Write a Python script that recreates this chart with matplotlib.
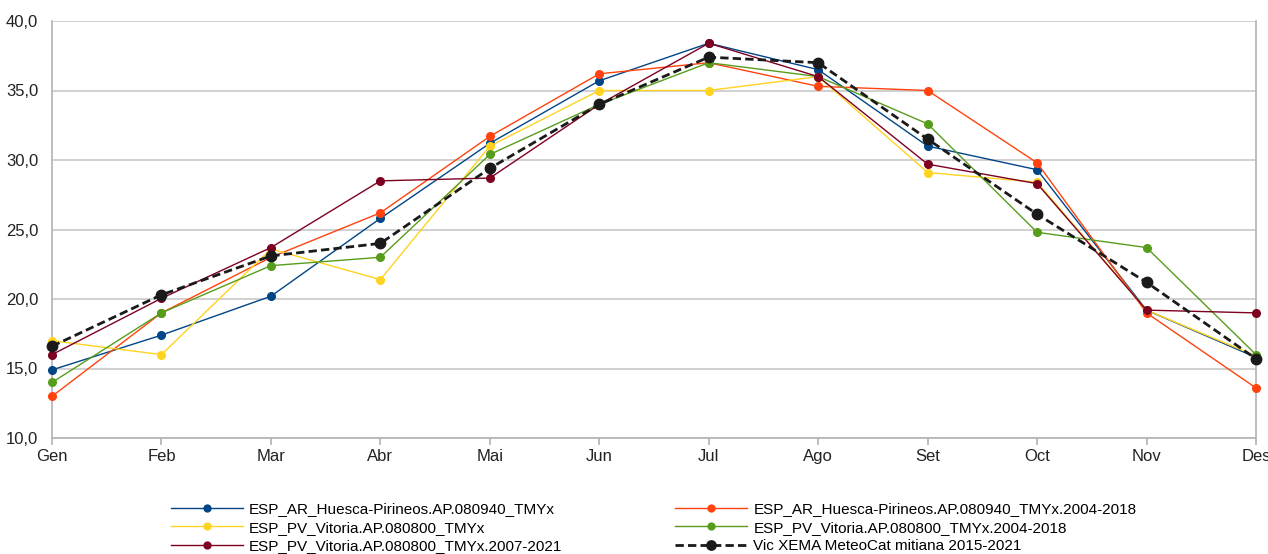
import matplotlib
matplotlib.use("Agg")
import matplotlib.pyplot as plt
from matplotlib.ticker import FuncFormatter

plt.rcParams['font.family'] = ['Liberation Sans', 'DejaVu Sans']

months = ["Gen", "Feb", "Mar", "Abr", "Mai", "Jun", "Jul", "Ago", "Set", "Oct", "Nov", "Des"]

huesca_tmyx = [14.9, 17.4, 20.2, 25.8, 31.2, 35.7, 38.4, 36.5, 31.0, 29.3, 19.2, 15.8]
huesca_0418 = [13.0, 19.0, 23.0, 26.2, 31.7, 36.2, 37.0, 35.3, 35.0, 29.8, 19.0, 13.6]
vitoria_tmyx = [17.0, 16.0, 23.6, 21.4, 31.0, 35.0, 35.0, 36.0, 29.1, 28.4, 19.2, 15.9]
vitoria_0418 = [14.0, 19.0, 22.4, 23.0, 30.4, 34.0, 37.0, 36.0, 32.6, 24.8, 23.7, 16.0]
vitoria_0721 = [16.0, 20.05, 23.7, 28.5, 28.7, 34.0, 38.4, 36.0, 29.7, 28.3, 19.2, 19.0]
vic_xema = [16.6, 20.3, 23.1, 24.0, 29.4, 34.0, 37.4, 37.0, 31.5, 26.1, 21.2, 15.7]

labels = [
    "ESP_AR_Huesca-Pirineos.AP.080940_TMYx",
    "ESP_AR_Huesca-Pirineos.AP.080940_TMYx.2004-2018",
    "ESP_PV_Vitoria.AP.080800_TMYx",
    "ESP_PV_Vitoria.AP.080800_TMYx.2004-2018",
    "ESP_PV_Vitoria.AP.080800_TMYx.2007-2021",
    "Vic XEMA MeteoCat mitiana 2015-2021",
]
colors = ["#004586", "#ff420e", "#ffd320", "#579d1c", "#7e0021", "#1a1a1a"]
series = [huesca_tmyx, huesca_0418, vitoria_tmyx, vitoria_0418, vitoria_0721, vic_xema]

fig = plt.figure(figsize=(12.68, 5.54), dpi=100)
ax = fig.add_axes([52/1268, 1-438/554, (1256-52)/1268, (438-21)/554])

x = list(range(len(months)))
handles = []
for i, (s, c, lab) in enumerate(zip(series, colors, labels)):
    if i == 5:
        h, = ax.plot(x, s, color=c, lw=2.0, ls=(0, (3, 1.5)), marker='o', ms=7.5,
                     label=lab, zorder=5, clip_on=False)
    else:
        h, = ax.plot(x, s, color=c, lw=1.0, marker='o', ms=5.5, label=lab,
                     zorder=3 + i * 0.1, clip_on=False)
    handles.append(h)

ax.set_xlim(0, 11)
ax.set_ylim(10, 40)
ax.set_yticks([10, 15, 20, 25, 30, 35, 40])
ax.yaxis.set_major_formatter(FuncFormatter(lambda v, p: f"{v:.1f}".replace('.', ',')))
ax.set_xticks(x)
ax.set_xticklabels(months)
ax.grid(axis='y', color='#c8c8c8', lw=1.2)
ax.set_axisbelow(True)
for sp in ax.spines.values():
    sp.set_color('#b3b3b3')
    sp.set_linewidth(1.2)
ax.spines['top'].set_visible(False)
ax.tick_params(axis='y', length=0, labelsize=12, pad=10, colors='#222222')
ax.tick_params(axis='x', length=5, color='#b3b3b3', width=1.2, labelsize=12, pad=3,
               labelcolor='#222222')

order = [0, 2, 4, 1, 3, 5]
fig.legend([handles[i] for i in order], [labels[i] for i in order], ncol=2,
           loc='upper left', bbox_to_anchor=(171/1268, 1-502/554), frameon=False,
           fontsize=11, handlelength=4.7, handletextpad=0.4, columnspacing=7.4,
           labelspacing=0.3, borderpad=0, borderaxespad=0, markerscale=0.9)

fig.savefig("out.png", dpi=100)
